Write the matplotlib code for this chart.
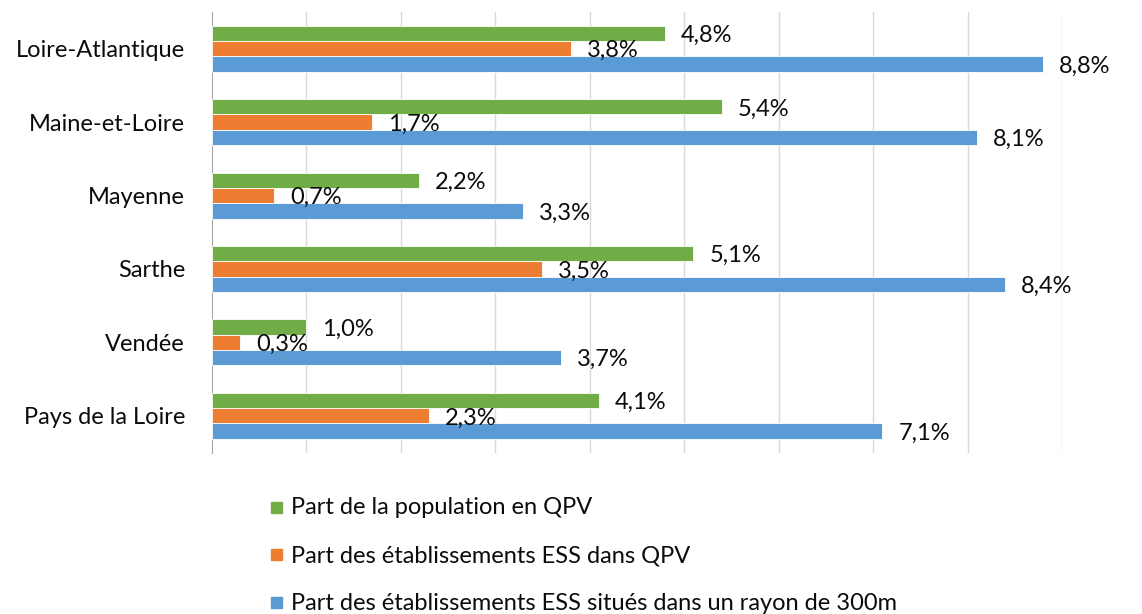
import matplotlib.pyplot as plt
import numpy as np
from matplotlib.patches import Rectangle

plt.rcParams["font.family"] = ["Lato", "DejaVu Sans"]

# Data (percent)
regions = ["Loire-Atlantique", "Maine-et-Loire", "Mayenne", "Sarthe", "Vendée", "Pays de la Loire"]
pop_qpv = [4.8, 5.4, 2.2, 5.1, 1.0, 4.1]
ess_in_qpv = [3.8, 1.7, 0.66, 3.5, 0.3, 2.3]
ess_300m = [8.8, 8.1, 3.3, 8.4, 3.7, 7.1]

series = [
    ("Part de la population en QPV", pop_qpv, "#70AD47"),
    ("Part des établissements ESS dans QPV", ess_in_qpv, "#ED7D31"),
    ("Part des établissements ESS situés dans un rayon de 300m", ess_300m, "#5B9BD5"),
]

FS = 17
W, H = 1142, 614

fig = plt.figure(figsize=(W / 100, H / 100), dpi=100)
ax = fig.add_axes([211.5 / W, 1 - 452.5 / H, (1062 - 211.5) / W, (452.5 - 12) / H])

y = np.arange(len(regions))
h = 0.209
for k, (name, vals, color) in enumerate(series):
    pos = y + (k - 1) * h
    ax.barh(pos, vals, height=h, color=color, edgecolor="white", linewidth=0.6, zorder=3)
    for p, v in zip(pos, vals):
        ax.annotate(f"{v:.1f}".replace(".", ",") + "%", (v, p), xytext=(11.5, -1.5),
                    textcoords="offset points", ha="left", va="center",
                    fontsize=FS, color="#0b0b0b", zorder=5)

ax.set_xlim(0, 9)
ax.set_ylim(len(regions) - 0.5, -0.5)
ax.set_xticks(np.arange(1, 10))
ax.set_xticklabels([])
ax.grid(axis="x", color="#D9D9D9", lw=1, zorder=0)
ax.set_yticks(y)
ax.set_yticklabels(regions, fontsize=FS, color="#0b0b0b")
ax.tick_params(length=0, pad=19)
for s in ("top", "right", "bottom"):
    ax.spines[s].set_visible(False)
ax.spines["left"].set_color("#A6A6A6")

# legend: one entry per row, below the plot
for k, (name, _, color) in enumerate(series):
    yc = 507 + k * 47.5
    fig.patches.append(Rectangle((271 / W, 1 - (yc + 5.5) / H), 11 / W, 11 / H,
                                 transform=fig.transFigure, color=color))
    fig.text(291 / W, 1 - (yc + 1) / H, name, fontsize=FS, color="#0b0b0b",
             ha="left", va="center")

fig.savefig("out.png", dpi=100, facecolor="white")
